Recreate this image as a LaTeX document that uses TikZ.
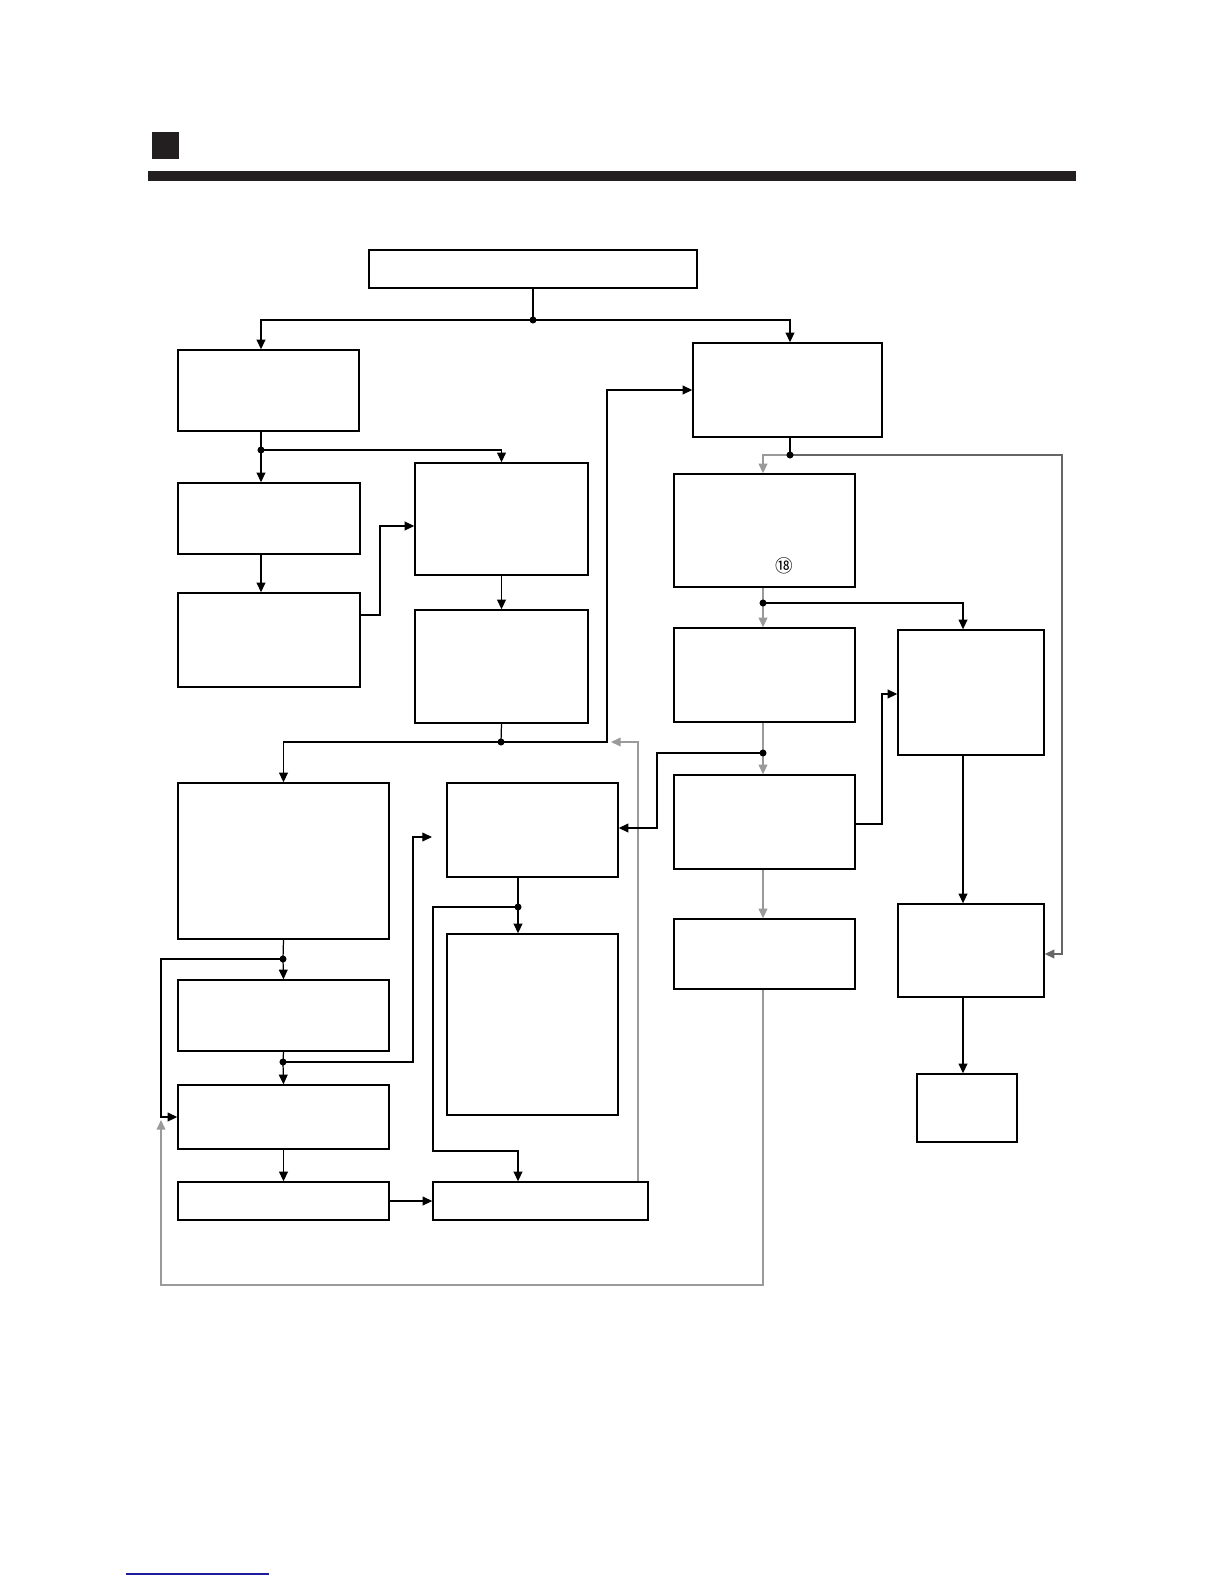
\documentclass[tikz,border=0pt]{standalone}
\usepackage{fontspec}
\usepackage{xcolor}
\usepackage{tikz}
\usetikzlibrary{arrows.meta,positioning}
\newfontfamily\cjk{Noto Sans CJK SC}
\definecolor{inkdark}{HTML}{231F20}
\definecolor{linkblue}{HTML}{1C1C9C}
\definecolor{flowgray}{HTML}{9A9A9A}
\definecolor{loopgray}{HTML}{666666}

\begin{document}
\begin{tikzpicture}[
    x=0.02cm, y=-0.02cm,
    pbox/.style 2 args={rectangle, draw=black, line width=0.8pt, minimum width=#1*0.02cm, minimum height=#2*0.02cm, inner sep=0pt},
    arr/.style={-{Triangle[length=5.5pt,width=5pt]}, line width=0.7pt},
    ln/.style={line width=0.7pt}
]
\useasboundingbox (0,0) rectangle (1224,1584);

% header
\fill[inkdark] (152,132) rectangle (179,159);
\fill[inkdark] (148,171) rectangle (1076,181);
\draw[linkblue, line width=0.6pt] (126,1574) -- (269,1574);

% boxes
\node[pbox={328}{38}] (top) at (533,269) {};
\node[pbox={181}{81}] (L1) at (268.5,390.5) {};
\node[pbox={182}{71}] (L2) at (269,518.5) {};
\node[pbox={182}{94}] (L3) at (269,640) {};
\node[pbox={211}{156}] (L4) at (283.5,861) {};
\node[pbox={211}{71}] (L5) at (283.5,1015.5) {};
\node[pbox={211}{64}] (L6) at (283.5,1117) {};
\node[pbox={211}{38}] (L7) at (283.5,1201) {};
\node[pbox={173}{112}] (M1) at (501.5,519) {};
\node[pbox={173}{113}] (M2) at (501.5,666.5) {};
\node[pbox={171}{94}] (M3) at (532.5,830) {};
\node[pbox={171}{181}] (M4) at (532.5,1024.5) {};
\node[pbox={215}{38}] (M5) at (540.5,1201) {};
\node[pbox={189}{94}] (R1) at (787.5,390) {};
\node[pbox={181}{113}] (R2) at (764.5,530.5) {};
\node[pbox={181}{94}] (R3) at (764.5,675) {};
\node[pbox={181}{94}] (R4) at (764.5,822) {};
\node[pbox={181}{70}] (R5) at (764.5,954) {};
\node[pbox={146}{125}] (S1) at (971,692.5) {};
\node[pbox={146}{93}] (S2) at (971,950.5) {};
\node[pbox={100}{68}] (S3) at (967,1108) {};
\node[font=\cjk\fontsize{10}{10}\selectfont, inner sep=0pt] (n18) at (784,566) {⑱};

% junctions
\coordinate (j1) at (533,320);
\coordinate (j2) at (261,450);
\coordinate (j3) at (501,742);
\coordinate (j4) at (790,455);
\coordinate (j5) at (763,603);
\coordinate (j6) at (763,753);
\coordinate (j7) at (283,959);
\coordinate (j8) at (283,1062);
\coordinate (j9) at (518,907);
\coordinate (m3in) at (432,837);
\coordinate (l6up) at (161,1120);
\coordinate (backin) at (611,742);

% left column
\draw[ln] (top.south) -- (j1);
\draw[arr] (j1) -| (261,0 |- L1.north);
\draw[arr] (j1) -| (790,0 |- R1.north);
\draw[ln] (261,0 |- L1.south) -- (j2);
\draw[arr] (j2) -- (261,0 |- L2.north);
\draw[arr] (j2) -| (M1.north);
\draw[arr] (261,0 |- L2.south) -- (261,0 |- L3.north);
\draw[arr] (L3.east |- 0,615) -- (380,615) |- (M1.west |- 0,526);
\draw[arr] (M1) -- (M2);
\draw[ln] (M2.south) -- (j3);
\draw[arr] (j3) -| (L4.north);
\draw[arr] (j3) -- (607,742) |- (R1.west);
\draw[ln] (L4.south) -- (j7);
\draw[arr] (j7) -- (L5.north);
\draw[arr] (j7) -- (161,959) |- (L6.west);
\draw[ln] (L5.south) -- (j8);
\draw[arr] (j8) -- (L6.north);
\draw[arr] (j8) -- (413,1062) |- (m3in);
\draw[arr] (L6) -- (L7);
\draw[arr] (L7) -- (M5);

% middle column
\draw[ln] (518,0 |- M3.south) -- (j9);
\draw[arr] (j9) -- (518,0 |- M4.north);
\draw[arr] (j9) -- (433,907) |- (518,1151) -- (518,0 |- M5.north);
\draw[arr, flowgray] (638,0 |- M5.north) |- (backin);

% right columns
\draw[ln] (790,0 |- R1.south) -- (j4);
\draw[arr, flowgray] (j4) -| (763,0 |- R2.north);
\draw[arr, loopgray] (j4) -- (1062,455) |- (S2.east |- 0,954);
\draw[ln, flowgray] (763,0 |- R2.south) -- (j5);
\draw[arr, flowgray] (j5) -- (763,0 |- R3.north);
\draw[arr] (j5) -| (963,0 |- S1.north);
\draw[ln, flowgray] (763,0 |- R3.south) -- (j6);
\draw[arr, flowgray] (j6) -- (763,0 |- R4.north);
\draw[arr] (j6) -- (657,753) |- (M3.east |- 0,828);
\draw[arr] (R4.east |- 0,824) -- (882,824) |- (S1.west |- 0,694);
\draw[arr, flowgray] (763,0 |- R4.south) -- (763,0 |- R5.north);
\draw[arr] (963,0 |- S1.south) -- (963,0 |- S2.north);
\draw[arr] (963,0 |- S2.south) -- (963,0 |- S3.north);
\draw[arr, flowgray] (763,0 |- R5.south) -- (763,1285) -| (l6up);

% junction dots on top
\foreach \j in {j1,j2,j3,j4,j5,j6,j7,j8,j9}
    \fill (\j) circle (2pt);
\end{tikzpicture}
\end{document}
